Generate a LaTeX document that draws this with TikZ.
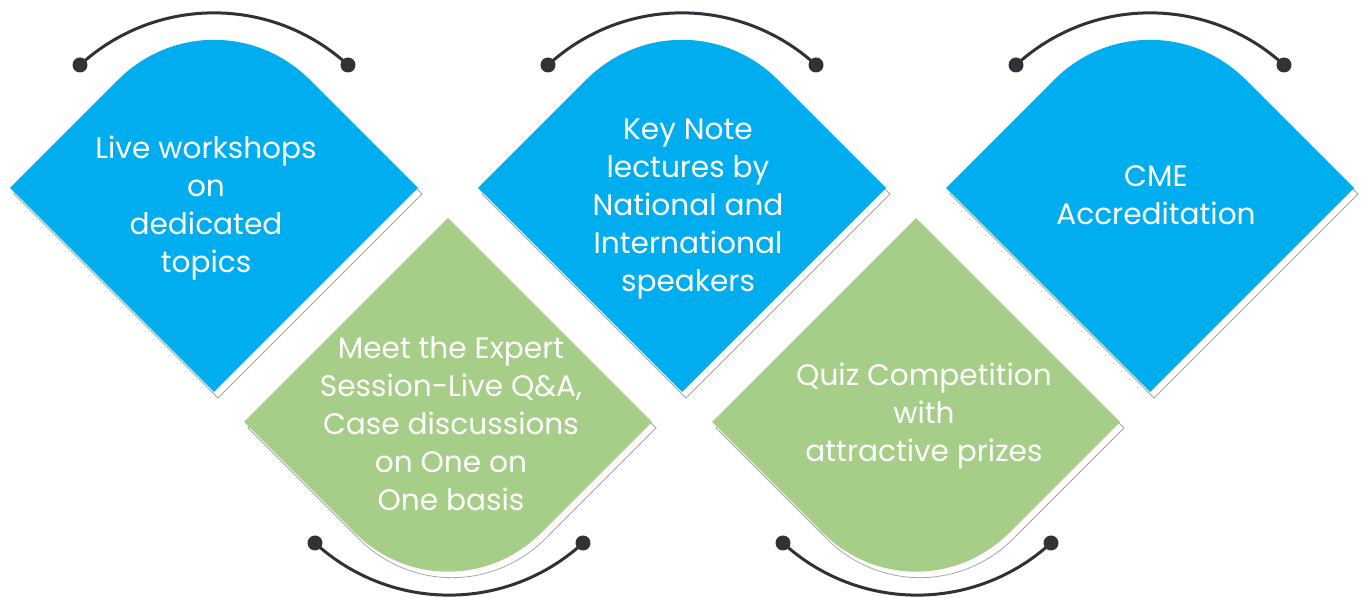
\documentclass[tikz,border=0pt]{standalone}
\usepackage{fontspec}
\setmainfont{Poppins}
\definecolor{bluefill}{RGB}{0,174,239}
\definecolor{greenfill}{RGB}{166,206,136}
\definecolor{arcdark}{RGB}{47,51,54}
\tikzset{
  bluebox/.style={fill=bluefill},
  greenbox/.style={fill=greenfill},
  shadowbox/.style={fill=white, draw=gray!70, line width=0.4pt},
  label/.style={text=white, align=center, font=\fontsize{14.8}{19}\selectfont, inner sep=0pt},
  arcline/.style={draw=arcdark, line width=1.5pt},
  dot/.style={fill=arcdark},
  bluepath/.pic={
    \path[pic actions] (-204,0) -- (-97.3,-106.7) .. controls (-43.6,-162) and (43.6,-162) .. (97.3,-106.7) -- (204,0) -- (0,204) -- cycle;
  },
  greenpath/.pic={
    \path[pic actions] (-204,0) -- (0,-204) -- (204,0) -- (97.3,106.7) .. controls (43.6,164) and (-43.6,164) .. (-97.3,106.7) -- cycle;
  }
}
\begin{document}
\begin{tikzpicture}[x=0.5pt,y=-0.5pt]
\useasboundingbox (0,0) rectangle (1367,598);
% shadows
\foreach \cx in {214,682,1150} { \pic[shadowbox] at (\cx+4,194) {bluepath}; }
\foreach \cx in {448,916} { \pic[shadowbox] at (\cx+4,428) {greenpath}; }
% shapes
\foreach \cx in {214,682,1150} { \pic[bluebox] at (\cx,188) {bluepath}; }
\foreach \cx in {448,916} { \pic[greenbox] at (\cx,422) {greenpath}; }
% texts
\node[label] (t1) at (206,208) {Live workshops\\on\\dedicated\\topics};
\node[label] (t2) at (451,424) {Meet the Expert\\Session-Live Q\&A,\\Case discussions\\on One on\\One basis};
\node[label] (t3) at (688,209) {Key Note\\lectures by\\National and\\International\\speakers};
\node[label] (t4) at (924,416) {Quiz Competition\\with\\attractive prizes};
\node[label] (t5) at (1156,195) {CME\\Accreditation};
% arcs
\coordinate (a1l) at (80,65);   \coordinate (a1r) at (348,65);
\coordinate (a2l) at (548,65);  \coordinate (a2r) at (816,65);
\coordinate (a3l) at (1016,65); \coordinate (a3r) at (1284,65);
\coordinate (g1l) at (315,543); \coordinate (g1r) at (583,543);
\coordinate (g2l) at (783,543); \coordinate (g2r) at (1051,543);
\foreach \l/\r in {a1l/a1r,a2l/a2r,a3l/a3r} {
  \draw[arcline] (\l) .. controls +(76,-69.5) and +(-76,-69.5) .. (\r);
  \fill[dot] (\l) circle[radius=7.5]; \fill[dot] (\r) circle[radius=7.5];
}
\foreach \l/\r in {g1l/g1r,g2l/g2r} {
  \draw[arcline] (\l) .. controls +(76,69.5) and +(-76,69.5) .. (\r);
  \fill[dot] (\l) circle[radius=7.5]; \fill[dot] (\r) circle[radius=7.5];
}
\end{tikzpicture}
\end{document}
